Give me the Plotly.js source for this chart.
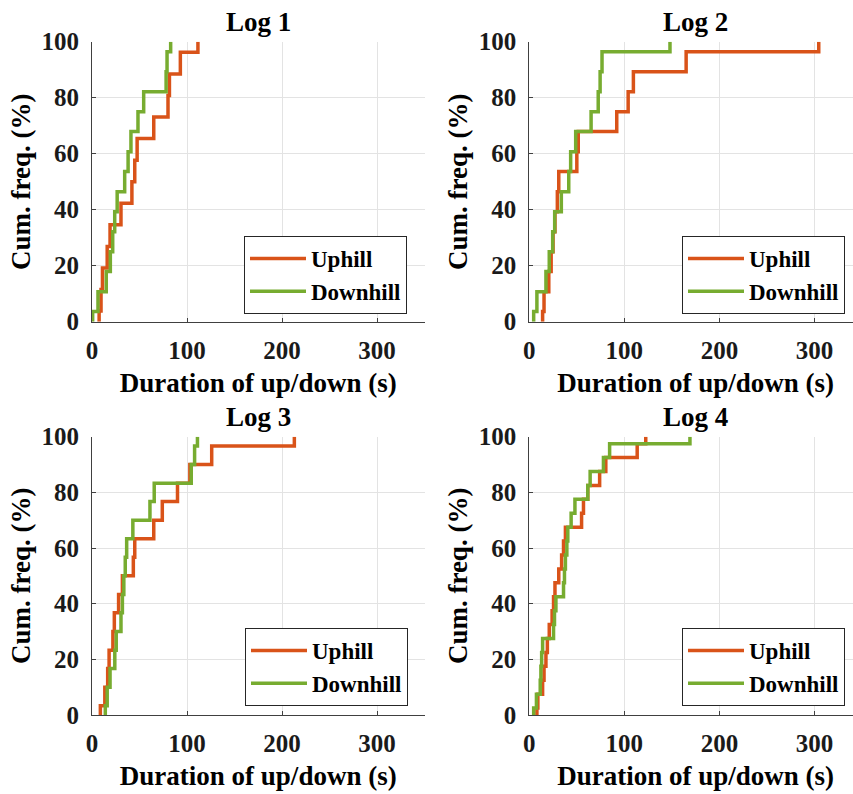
<!DOCTYPE html>
<html>
<head>
<meta charset="utf-8">
<script src="https://cdn.plot.ly/plotly-3.0.1.min.js"></script>
<style>
html,body{margin:0;padding:0;overflow:hidden;background:#fff;}
#chart{width:862px;height:794px;}
</style>
</head>
<body>
<div id="chart"></div>
<script>
// ---- Data (duration in s at each step, cumulative frequency in %) ----
const panelTitles = ["Log 1", "Log 2", "Log 3", "Log 4"];
const seriesNames = ["Uphill", "Downhill"];
const xTickVals = [0, 100, 200, 300];
const yTickVals = [0, 20, 40, 60, 80, 100];

const log1UpDur   = [7.5, 9.5, 11, 16, 19, 30.5, 42, 45, 47.5, 65, 80, 81.5, 93, 111.5];
const log1UpCum   = [3.8, 11.5, 19.2, 26.9, 34.6, 42.3, 50, 57.7, 65.4, 73.1, 80.8, 88.5, 96.2, 100];
const log1DownDur = [0.7, 6.3, 15, 19.3, 21.8, 23.9, 26.5, 34.4, 38, 41, 48.4, 54.4, 78, 79, 82.8];
const log1DownCum = [3.6, 10.7, 17.9, 25, 32.1, 39.3, 46.4, 53.6, 60.7, 67.9, 75, 82.1, 89.3, 96.4, 100];

const log2UpDur   = [14, 15.5, 20.5, 23, 25, 27, 29.5, 31, 50, 51.5, 92, 104, 109.5, 165, 304.5];
const log2UpCum   = [3.6, 10.7, 17.9, 25, 32.1, 39.3, 46.4, 53.6, 60.7, 67.9, 75, 82.1, 89.3, 96.4, 100];
const log2DownDur = [4.6, 8, 17.5, 21, 24.6, 26.7, 33.7, 41.5, 43.5, 48.8, 65, 72.5, 74.5, 76.5, 148];
const log2DownCum = [3.6, 10.7, 17.9, 25, 32.1, 39.3, 46.4, 53.6, 60.7, 67.9, 75, 82.1, 89.3, 96.4, 100];

const log3UpDur   = [8.8, 13.5, 16.5, 18, 22, 23.5, 28, 32, 43.5, 45, 65, 74, 90, 103, 126, 213];
const log3UpCum   = [3.3, 10, 16.7, 23.3, 30, 36.7, 43.3, 50, 56.7, 63.3, 70, 76.7, 83.3, 90, 96.7, 100];
const log3DownDur = [14, 16, 19, 24, 25.5, 30.5, 32, 33.5, 35, 36.5, 43, 61, 65.5, 104.5, 108, 111];
const log3DownCum = [3.3, 10, 16.7, 23.3, 30, 36.7, 43.3, 50, 56.7, 63.3, 70, 76.7, 83.3, 90, 96.7, 100];

const log4UpDur   = [8, 9, 14, 15.5, 17.5, 19, 21, 24, 25.5, 27, 31, 34, 36, 38, 55, 57, 61.5, 74, 80.5, 113.5, 122.5];
const log4UpCum   = [2.5, 7.5, 12.5, 17.5, 22.5, 27.5, 32.5, 37.5, 42.5, 47.5, 52.5, 57.5, 62.5, 67.5, 72.5, 77.5, 82.5, 87.5, 92.5, 97.5, 100];
const log4DownDur = [4.6, 7.5, 11.5, 12.2, 13, 14, 25.5, 26.5, 28, 36, 37, 38, 39.5, 40.5, 44, 48, 61.5, 64, 78, 84.5, 169];
const log4DownCum = [2.5, 7.5, 12.5, 17.5, 22.5, 27.5, 32.5, 37.5, 42.5, 47.5, 52.5, 57.5, 62.5, 67.5, 72.5, 77.5, 82.5, 87.5, 92.5, 97.5, 100];

// ---- Styling ----
const RED = "#D95319", GREEN = "#77AC30";
const FONT = "Liberation Serif, Times New Roman, serif";
const W = 862, H = 794;

const panels = [
  {up: [log1UpDur, log1UpCum], down: [log1DownDur, log1DownCum]},
  {up: [log2UpDur, log2UpCum], down: [log2DownDur, log2DownCum]},
  {up: [log3UpDur, log3UpCum], down: [log3DownDur, log3DownCum]},
  {up: [log4UpDur, log4UpCum], down: [log4DownDur, log4DownCum]}
];

// pixel geometry of the axes boxes
const xPix = [[92, 424.5], [529.3, 862]];
const yPix = [[41.7, 321.7], [436.7, 715]];
const legPix = [[244, 236], [682, 236], [245, 628], [682, 628]];

function stepTrace(dur, cum, name, color, i) {
  const sfx = i === 0 ? "" : String(i + 1);
  return {
    type: "scatter", mode: "lines",
    x: [dur[0]].concat(dur), y: [0].concat(cum),
    line: {shape: "hv", color: color, width: 3.5},
    name: name,
    xaxis: "x" + sfx, yaxis: "y" + sfx,
    legend: "legend" + sfx,
    hoverinfo: "skip"
  };
}

const traces = [];
panels.forEach((p, i) => {
  traces.push(stepTrace(p.up[0], p.up[1], seriesNames[0], RED, i));
  traces.push(stepTrace(p.down[0], p.down[1], seriesNames[1], GREEN, i));
});

const layout = {
  width: W, height: H,
  margin: {l: 0, r: 0, t: 0, b: 0},
  paper_bgcolor: "#fff", plot_bgcolor: "#fff",
  font: {family: FONT, color: "#262626"},
  annotations: [],
  showlegend: true
};

const tickFont = {family: FONT, size: 25, weight: "bold", color: "#1a1a1a"};
const titleFont = {family: FONT, size: 27, weight: "bold", color: "#000"};

for (let i = 0; i < 4; i++) {
  const col = i % 2, row = Math.floor(i / 2);
  const sfx = i === 0 ? "" : String(i + 1);
  const xd = [xPix[col][0] / W, Math.min(1, xPix[col][1] / W)];
  const yd = [1 - yPix[row][1] / H, 1 - yPix[row][0] / H];
  layout["xaxis" + sfx] = {
    domain: xd, anchor: "y" + sfx, range: [0, 350],
    tickvals: xTickVals, ticktext: xTickVals.map(String),
    showgrid: true, gridcolor: "#e3e3e3", gridwidth: 1,
    showline: true, linecolor: "#404040", linewidth: 1,
    ticks: "inside", ticklen: 4, tickcolor: "#404040",
    zeroline: false, tickfont: tickFont, ticklabelstandoff: 6,
    title: {text: "Duration of up/down (s)", font: titleFont, standoff: 10},
    fixedrange: true
  };
  layout["yaxis" + sfx] = {
    domain: yd, anchor: "x" + sfx, range: [0, 100],
    tickvals: yTickVals, ticktext: yTickVals.map(String),
    showgrid: true, gridcolor: "#e3e3e3", gridwidth: 1,
    showline: true, linecolor: "#404040", linewidth: 1,
    ticks: "inside", ticklen: 4, tickcolor: "#404040",
    zeroline: false, tickfont: tickFont, ticklabelstandoff: 7,
    title: {text: "Cum. freq. (%)", font: titleFont, standoff: 3},
    fixedrange: true
  };
  layout.annotations.push({
    text: panelTitles[i], xref: "paper", yref: "paper",
    x: (xd[0] + (xPix[col][0] + 332.5) / W) / 2, y: yd[1],
    xanchor: "center", yanchor: "bottom", yshift: 3, showarrow: false,
    font: titleFont
  });
  layout["legend" + sfx] = {
    x: legPix[i][0] / W, y: 1 - legPix[i][1] / H,
    xanchor: "left", yanchor: "top",
    bgcolor: "#fff", bordercolor: "#262626", borderwidth: 1,
    font: {family: FONT, size: 23, weight: "bold", color: "#000"},
    itemwidth: 56, tracegroupgap: 0
  };
}

Plotly.newPlot("chart", traces, layout, {staticPlot: true, displayModeBar: false});
</script>
</body>
</html>
